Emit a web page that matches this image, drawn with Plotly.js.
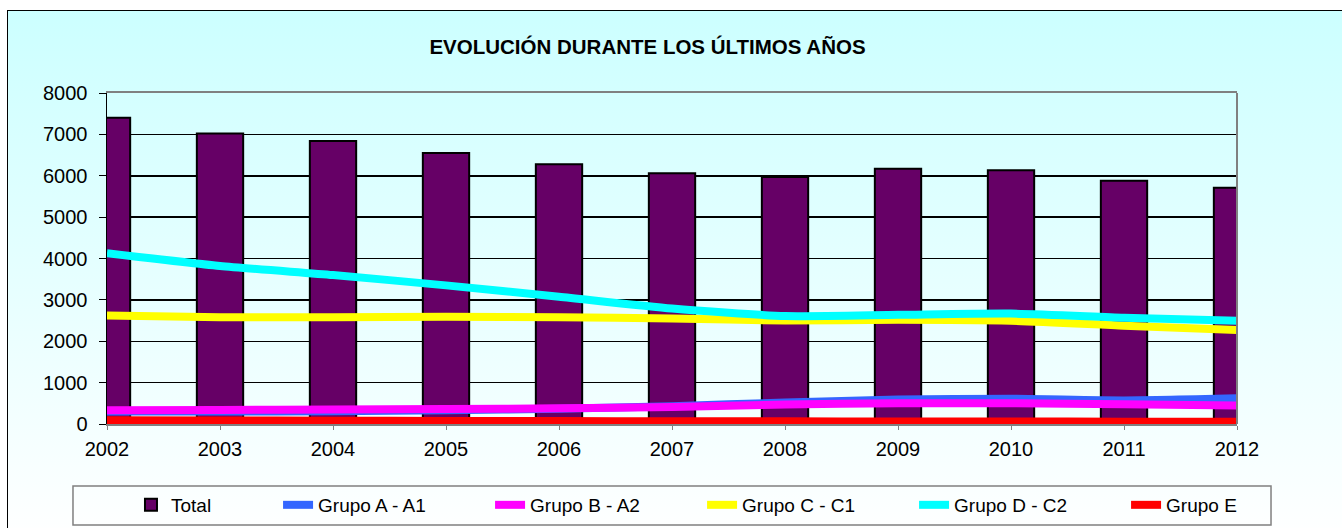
<!DOCTYPE html>
<html>
<head>
<meta charset="utf-8">
<script src="https://cdn.plot.ly/plotly-3.0.1.min.js"></script>
<style>
  html, body { margin: 0; padding: 0; background: #ffffff; width: 1342px; height: 528px; overflow: hidden; }
  #frame { position: absolute; left: 7px; top: 10px; width: 1400px; height: 530px;
           border-left: 1px solid #000; border-top: 1px solid #000;
           background: linear-gradient(to bottom, #ccffff 0%, #ffffff 100%); }
  #chart { position: absolute; left: 0; top: 0; width: 1342px; height: 528px; }
</style>
</head>
<body>
<div id="frame"></div>
<div id="chart"></div>
<script>
const years = [2002, 2003, 2004, 2005, 2006, 2007, 2008, 2009, 2010, 2011, 2012];
const total   = [7400, 7020, 6840, 6550, 6280, 6060, 5970, 6170, 6130, 5880, 5710];
const grupoA  = [300, 300, 310, 330, 370, 430, 520, 590, 610, 570, 620];
const grupoB  = [330, 340, 350, 360, 380, 410, 470, 500, 500, 480, 450];
const grupoC  = [2620, 2580, 2580, 2590, 2580, 2550, 2500, 2520, 2495, 2375, 2270];
const grupoD  = [4130, 3820, 3600, 3350, 3075, 2790, 2610, 2640, 2670, 2570, 2495];
const grupoE  = [90, 85, 80, 75, 70, 65, 65, 60, 60, 55, 55];
const yTicks  = [0, 1000, 2000, 3000, 4000, 5000, 6000, 7000, 8000];

const FONT = '"Liberation Sans", Arial, sans-serif';

function lineTrace(name, y, color) {
  return {
    type: 'scatter', mode: 'lines', name: name, x: years, y: y,
    line: { color: color, width: 8, shape: 'spline', smoothing: 0.6 },
    legend: 'legend2', hoverinfo: 'skip'
  };
}

const data = [
  { type: 'bar', name: 'Total', x: years, y: total, width: 0.41,
    marker: { color: '#660066', line: { color: '#000000', width: 2 } },
    legend: 'legend', hoverinfo: 'skip' },
  lineTrace('Grupo A - A1', grupoA, '#3366ff'),
  lineTrace('Grupo B - A2', grupoB, '#ff00ff'),
  lineTrace('Grupo C - C1', grupoC, '#ffff00'),
  lineTrace('Grupo D - C2', grupoD, '#00ffff'),
  lineTrace('Grupo E', grupoE, '#ff0000')
];

const layout = {
  width: 1342, height: 528,
  paper_bgcolor: 'rgba(0,0,0,0)', plot_bgcolor: 'rgba(0,0,0,0)',
  margin: { l: 107, r: 105, t: 93, b: 104, pad: 0, autoexpand: false },
  font: { family: FONT, color: '#000000', size: 20 },
  title: { text: '<b>EVOLUCIÓN DURANTE LOS ÚLTIMOS AÑOS</b>', font: { family: FONT, size: 20.5, color: '#000' },
           x: 0.4825, xanchor: 'center', xref: 'container', y: 0.911, yanchor: 'middle', yref: 'container' },
  xaxis: {
    type: 'linear', range: [2002, 2012], tickvals: years, ticktext: years.map(String),
    showgrid: false, zeroline: false,
    showline: true, linecolor: '#808080', linewidth: 2, mirror: true,
    ticks: 'outside', ticklen: 4, tickcolor: '#808080', tickwidth: 1,
    ticklabelstandoff: 2,
    tickfont: { family: FONT, size: 20, color: '#000' }
  },
  yaxis: {
    range: [0, 8000], tickvals: yTicks, ticktext: yTicks.map(String),
    showgrid: true, gridcolor: '#000000', gridwidth: 1.5, zeroline: false,
    showline: true, linecolor: '#000000', linewidth: 1.5,
    ticks: 'outside', ticklen: 7, tickcolor: '#000', tickwidth: 1,
    ticklabelstandoff: 7,
    tickfont: { family: FONT, size: 20, color: '#000' }
  },
  shapes: [
    { type: 'line', xref: 'paper', yref: 'paper', x0: 1, x1: 1, y0: 0, y1: 1,
      line: { color: '#808080', width: 2 } },
    { type: 'rect', xref: 'paper', yref: 'paper', x0: -0.0301, x1: 1.0301, y0: -0.1873, y1: -0.3051,
      line: { color: '#808080', width: 1.5 }, fillcolor: 'rgba(0,0,0,0)', layer: 'below' }
  ],
  legend: {
    orientation: 'h', xref: 'container', yref: 'container',
    x: 0.0976, xanchor: 'left', y: 0.0436, yanchor: 'middle',
    bgcolor: 'rgba(0,0,0,0)', borderwidth: 0,
    font: { family: FONT, size: 19, color: '#000' }
  },
  legend2: {
    orientation: 'h', xref: 'container', yref: 'container',
    x: 0.2072, xanchor: 'left', y: 0.0436, yanchor: 'middle',
    bgcolor: 'rgba(0,0,0,0)', borderwidth: 0,
    entrywidth: 167, entrywidthmode: 'pixels',
    font: { family: FONT, size: 19, color: '#000' }
  },
  showlegend: true
};

Plotly.newPlot('chart', data, layout, { staticPlot: true, displayModeBar: false });
</script>
</body>
</html>
